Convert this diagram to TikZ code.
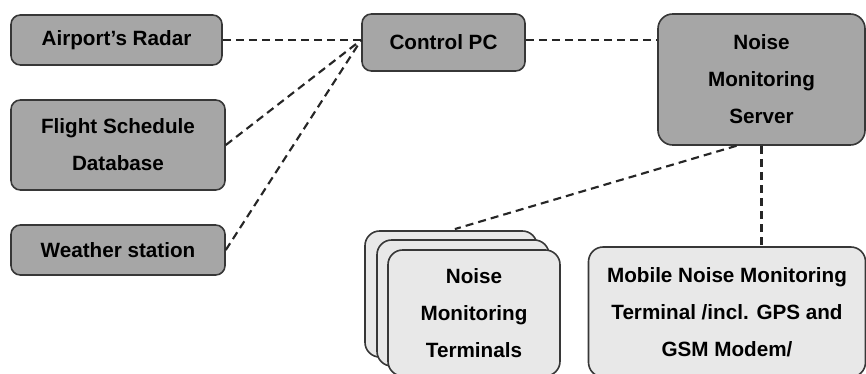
\documentclass[tikz,border=0pt]{standalone}
\usepackage{fontspec}
\setmainfont{Liberation Sans}
\usetikzlibrary{calc}
\definecolor{boxdark}{RGB}{166,166,166}
\definecolor{boxlight}{RGB}{232,232,232}
\definecolor{boxedge}{RGB}{55,55,55}

\begin{document}
\begin{tikzpicture}[x=0.75pt, y=-0.75pt,
    darkbox/.style={draw=boxedge, line width=1.2pt, fill=boxdark, rounded corners=7pt,
        align=center, inner sep=0pt, font=\bfseries\fontsize{15.5}{27.75}\selectfont},
    lightbox/.style={darkbox, fill=boxlight, rounded corners=11pt},
    link/.style={line width=1.6pt, dash pattern=on 6pt off 3.8pt, black!85}]
    \clip (0,0) rectangle (866,374);
        % sources on the left
        \node[darkbox, minimum width=158.25pt, minimum height=37.5pt] at (116.5, 40) (radar) {Airport’s Radar};
        \node[darkbox, minimum width=160.5pt, minimum height=67.5pt] at (118, 145) (flights) {Flight Schedule \\ Database};
        \node[darkbox, minimum width=160.5pt, minimum height=37.5pt] at (118, 250) (weather) {Weather station};
        \node[darkbox, minimum width=122.25pt, minimum height=42.75pt] at (443.5, 42.5) (pc) {Control PC};
        \node[darkbox, rounded corners=11pt, minimum width=155.25pt, minimum height=98.25pt] at (761.5, 79.5) (server) {Noise \\ Monitoring \\ Server};
        % terminals, drawn as a stack
        \node[lightbox, minimum width=129pt, minimum height=94.5pt] at (451, 294) (back) {};
        \node[lightbox, minimum width=129pt, minimum height=94.5pt] at (463, 303) (middle) {};
        \node[lightbox, minimum width=129pt, minimum height=94.5pt] at (474, 313) (terminals) {Noise \\ Monitoring \\ Terminals};
        \node[lightbox, minimum width=207.75pt, minimum height=97.5pt] at (727, 312) (mobile) {Mobile Noise Monitoring \\ Terminal /incl. GPS and \\ GSM Modem/};
        \coordinate (hub) at (pc.west |- radar.east);
        \draw[link] (radar.east) -- (hub);
        \draw[link] (flights.east) -- (hub);
        \draw[link] (weather.east) -- (hub);
        \draw[link] (pc.east |- hub) -- (hub -| server.west);
        \draw[link, shorten >=3pt] ($(server.south west)!0.38!(server.south east)$) -- (back.north);
        \draw[link] (server.south) -- (server.south |- mobile.north);
    \end{tikzpicture}
\end{document}
